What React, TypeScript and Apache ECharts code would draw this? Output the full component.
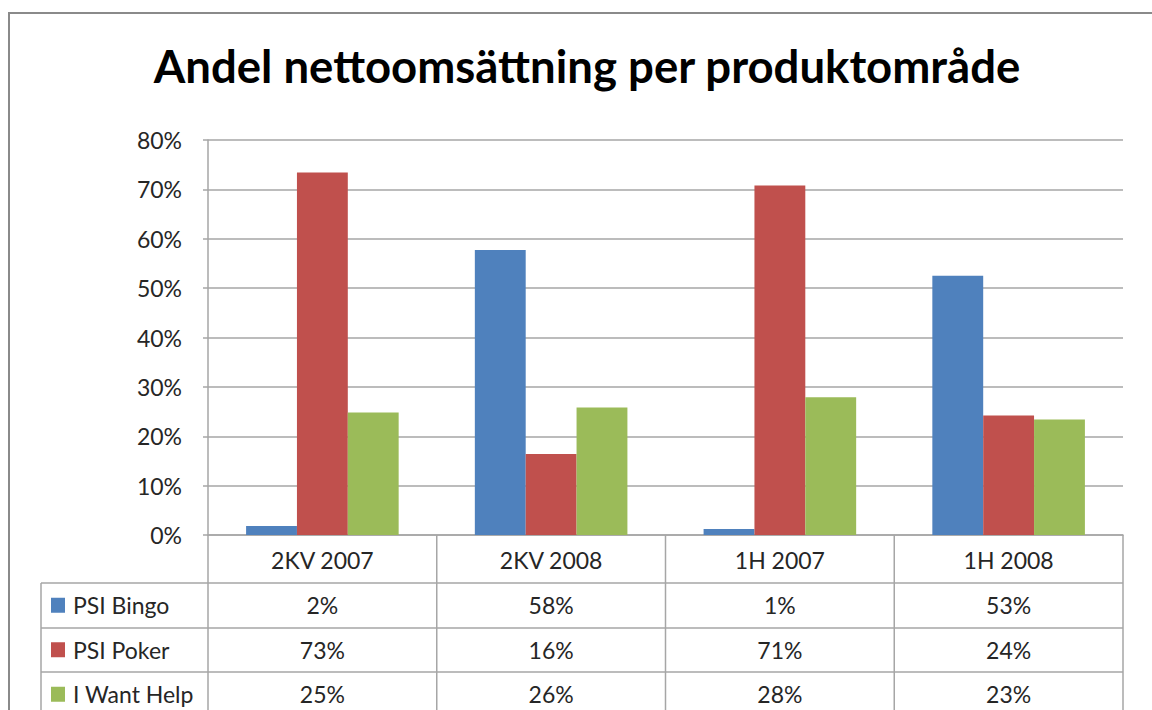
import React, { useEffect, useRef } from "react";
import * as echarts from "echarts";

const title = "Andel nettoomsättning per produktområde";
const categories = ["2KV 2007", "2KV 2008", "1H 2007", "1H 2008"];
const seriesNames = ["PSI Bingo", "PSI Poker", "I Want Help"];
const bingo = [1.8, 57.7, 1.2, 52.5];
const poker = [73.4, 16.4, 70.8, 24.2];
const wantHelp = [24.8, 25.8, 27.9, 23.4];
const colors = ["#4F81BD", "#C0504D", "#9BBB59"];
const yTicks = [0, 10, 20, 30, 40, 50, 60, 70, 80];

const W = 1152;
const H = 710;
const FONT = "Lato, 'Open Sans', sans-serif";

export default function App() {
  const ref = useRef<HTMLDivElement>(null);
  useEffect(() => {
    if (!ref.current) return;
    const chart = echarts.init(ref.current, undefined, { renderer: "svg", width: W, height: H });
    const gridLeft = 208;
    const gridRight = 1123;
    const gridTop = 140;
    const gridBottom = 535;
    const tableLeft = 41;
    const rowLines = [583, 628, 672];
    const rowH = 44.5;
    const colW = (gridRight - gridLeft) / categories.length;
    const lineColor = "#a6a6a6";
    const textColor = "#262626";
    const all = [bingo, poker, wantHelp];

    const graphics: any[] = [];
    // outer border
    graphics.push({
      type: "rect",
      shape: { x: 9, y: 13, width: 1300, height: 900 },
      style: { fill: "none", stroke: "#8a8a8a", lineWidth: 2 },
      silent: true,
    });
    // horizontal table lines
    rowLines.forEach((y) => {
      graphics.push({
        type: "line",
        shape: { x1: tableLeft, y1: y, x2: gridRight, y2: y },
        style: { stroke: lineColor, lineWidth: 1.5 },
      });
    });
    // vertical lines
    graphics.push({
      type: "line",
      shape: { x1: tableLeft, y1: rowLines[0], x2: tableLeft, y2: H + 5 },
      style: { stroke: lineColor, lineWidth: 1.5 },
    });
    for (let i = 0; i <= categories.length; i++) {
      const x = gridLeft + i * colW;
      graphics.push({
        type: "line",
        shape: { x1: x, y1: gridBottom, x2: x, y2: H + 5 },
        style: { stroke: lineColor, lineWidth: 1.5 },
      });
    }
    // legend keys + values
    seriesNames.forEach((name, r) => {
      const cy = rowLines[0] + r * rowH + rowH / 2;
      graphics.push({
        type: "rect",
        shape: { x: 51, y: cy - 7.5, width: 14, height: 15 },
        style: { fill: colors[r] },
      });
      graphics.push({
        type: "text",
        x: 73,
        y: cy,
        style: { text: name, font: `23px ${FONT}`, fill: textColor, verticalAlign: "middle", align: "left" },
      });
      all[r].forEach((v, c) => {
        graphics.push({
          type: "text",
          x: gridLeft + c * colW + colW / 2,
          y: cy,
          style: {
            text: `${Math.round(v)}%`,
            font: `23px ${FONT}`,
            fill: textColor,
            verticalAlign: "middle",
            align: "center",
          },
        });
      });
    });

    chart.setOption({
      animation: false,
      backgroundColor: "#ffffff",
      title: {
        text: title,
        left: 582,
        textAlign: "center",
        top: 37,
        textStyle: { fontFamily: FONT, fontWeight: "bold", fontSize: 45.5, color: "#000" },
      },
      grid: {
        left: gridLeft,
        right: W - gridRight,
        top: gridTop,
        bottom: H - gridBottom,
        containLabel: false,
      },
      xAxis: {
        type: "category",
        data: categories,
        axisLine: { show: true, lineStyle: { color: lineColor, width: 1.5 } },
        axisTick: { show: false },
        axisLabel: { fontFamily: FONT, fontSize: 23, color: textColor, margin: 13, interval: 0 },
      },
      yAxis: {
        type: "value",
        min: 0,
        max: 80,
        interval: 10,
        axisLine: { show: true, lineStyle: { color: lineColor, width: 1.5 } },
        axisTick: { show: true, length: 5, lineStyle: { color: lineColor, width: 1.5 } },
        splitLine: { show: true, lineStyle: { color: lineColor, width: 1.5 } },
        axisLabel: {
          fontFamily: FONT,
          fontSize: 23,
          color: textColor,
          margin: 26,
          formatter: (v: number) => (yTicks.includes(v) ? `${v}%` : ""),
        },
      },
      series: seriesNames.map((name, i) => ({
        name,
        type: "bar",
        data: all[i],
        barGap: "0%",
        barCategoryGap: "33.3%",
        itemStyle: { color: colors[i] },
      })),
      graphic: graphics,
    });
    return () => chart.dispose();
  }, []);
  return (
    <div
      ref={ref}
      style={{ position: "fixed", left: 0, top: 0, width: W, height: H, background: "#fff" }}
    />
  );
}
